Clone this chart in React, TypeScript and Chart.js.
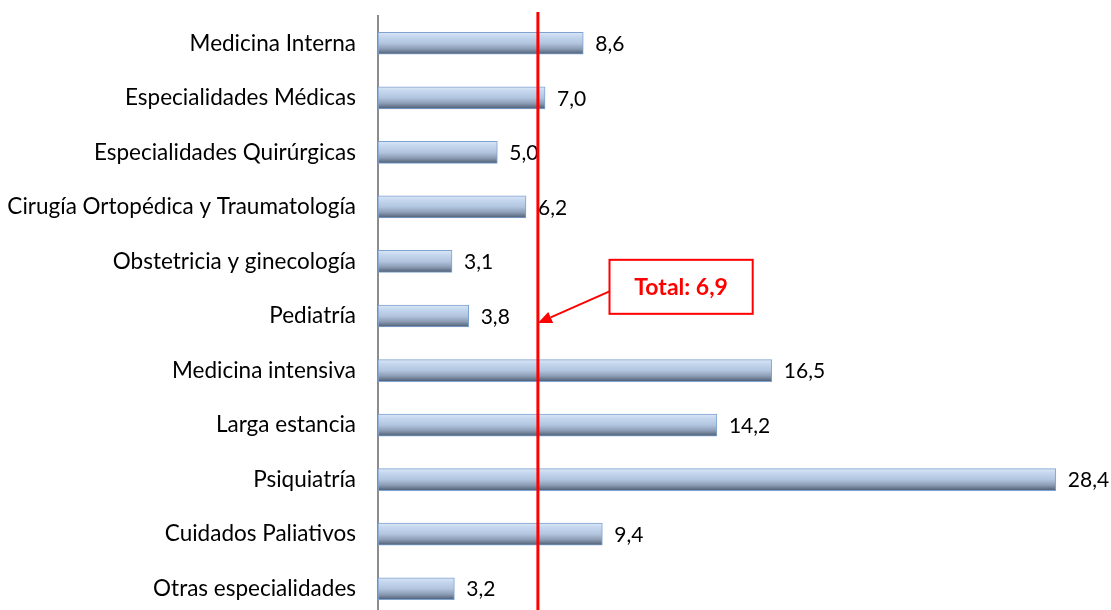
import React, { useEffect, useRef } from "react";
import { Chart, registerables } from "chart.js";

Chart.register(...registerables);

const categories = [
  "Medicina Interna",
  "Especialidades Médicas",
  "Especialidades Quirúrgicas",
  "Cirugía Ortopédica y Traumatología",
  "Obstetricia y ginecología",
  "Pediatría",
  "Medicina intensiva",
  "Larga estancia",
  "Psiquiatría",
  "Cuidados Paliativos",
  "Otras especialidades",
];
const values = [8.6, 7.0, 5.0, 6.2, 3.1, 3.8, 16.5, 14.2, 28.4, 9.4, 3.2];
const valueLabels = ["8,6", "7,0", "5,0", "6,2", "3,1", "3,8", "16,5", "14,2", "28,4", "9,4", "3,2"];

const totalLabel = "Total: 6,9";
const totalLineValue = 6.7; // red reference line position (as drawn)
const xMax = 30;
// annotation box in data units (x: value, y: category index)
const boxX = [9.7, 15.7];
const boxY = [3.97, 4.96];
const arrowStart = [9.7, 4.55];
const arrowEnd = [6.7, 5.13];

const FONT = "Lato, 'Open Sans', sans-serif";

export default function App() {
  const ref = useRef<HTMLCanvasElement | null>(null);

  useEffect(() => {
    document.body.style.margin = "0";
    document.body.style.overflow = "hidden";
    document.documentElement.style.overflow = "hidden";
    const canvas = ref.current!;

    const overlay = {
      id: "overlay",
      afterDatasetsDraw(chart: any) {
        const { ctx, chartArea, scales } = chart;
        const xs = scales.x;
        const ys = scales.y;
        ctx.save();
        // value labels
        const meta = chart.getDatasetMeta(0);
        ctx.font = `21px ${FONT}`;
        ctx.fillStyle = "#000";
        ctx.textAlign = "left";
        ctx.textBaseline = "middle";
        meta.data.forEach((el: any, i: number) => {
          ctx.fillText(valueLabels[i], el.x + 12, el.y + 1);
        });
        // red line
        const lx = xs.getPixelForValue(totalLineValue);
        ctx.strokeStyle = "#ff0000";
        ctx.lineWidth = 3;
        ctx.beginPath();
        ctx.moveTo(lx, chartArea.top - 4);
        ctx.lineTo(lx, chartArea.bottom);
        ctx.stroke();
        // box
        const bx0 = xs.getPixelForValue(boxX[0]);
        const bx1 = xs.getPixelForValue(boxX[1]);
        const by0 = ys.getPixelForValue(boxY[0]);
        const by1 = ys.getPixelForValue(boxY[1]);
        ctx.fillStyle = "#ffffff";
        ctx.fillRect(bx0, by0, bx1 - bx0, by1 - by0);
        ctx.lineWidth = 2;
        ctx.strokeRect(bx0, by0, bx1 - bx0, by1 - by0);
        ctx.fillStyle = "#ff0000";
        ctx.font = `bold 23px ${FONT}`;
        ctx.textAlign = "center";
        ctx.fillText(totalLabel, (bx0 + bx1) / 2, (by0 + by1) / 2 + 1);
        // arrow
        const ax0 = xs.getPixelForValue(arrowStart[0]);
        const ay0 = ys.getPixelForValue(arrowStart[1]);
        const ax1 = xs.getPixelForValue(arrowEnd[0]);
        const ay1 = ys.getPixelForValue(arrowEnd[1]);
        const ang = Math.atan2(ay1 - ay0, ax1 - ax0);
        const head = 14;
        const hx = ax1 - Math.cos(ang) * head;
        const hy = ay1 - Math.sin(ang) * head;
        ctx.lineWidth = 2;
        ctx.beginPath();
        ctx.moveTo(ax0, ay0);
        ctx.lineTo(hx, hy);
        ctx.stroke();
        ctx.beginPath();
        ctx.moveTo(ax1, ay1);
        ctx.lineTo(hx + Math.sin(ang) * 6, hy - Math.cos(ang) * 6);
        ctx.lineTo(hx - Math.sin(ang) * 6, hy + Math.cos(ang) * 6);
        ctx.closePath();
        ctx.fill();
        ctx.restore();
      },
    };

    const chart = new Chart(canvas, {
      type: "bar",
      data: {
        labels: categories,
        datasets: [
          {
            data: values,
            barThickness: 22,
            borderWidth: 1,
            borderColor: "#7fa3d1",
            borderSkipped: false,
            backgroundColor: (c: any) => {
              const ys = c.chart.scales && c.chart.scales.y;
              if (!ys || typeof c.dataIndex !== "number") return "#b3c7e0";
              const cy = ys.getPixelForValue(c.dataIndex);
              if (!Number.isFinite(cy)) return "#b3c7e0";
              const g = c.chart.ctx.createLinearGradient(0, cy - 11, 0, cy + 11);
              g.addColorStop(0, "#dbe6f4");
              g.addColorStop(0.2, "#c4d7ef");
              g.addColorStop(0.5, "#b2c5de");
              g.addColorStop(0.75, "#8c9db5");
              g.addColorStop(1, "#4c5c72");
              return g;
            },
          },
        ],
      },
      options: {
        indexAxis: "y",
        responsive: false,
        animation: false,
        layout: { padding: { top: 16, bottom: 0, left: 0, right: 17 } },
        plugins: { legend: { display: false }, tooltip: { enabled: false } },
        scales: {
          x: { display: false, min: 0, max: xMax },
          y: {
            afterFit: (s: any) => {
              s.width = 378;
              s.paddingTop = 0;
              s.paddingBottom = 0;
            },
            grid: { display: false, drawTicks: false },
            border: { display: true, color: "#8c8c8c", width: 2 },
            ticks: {
              padding: 22,
              color: "#000",
              font: { family: FONT, size: 22.5 },
            },
          },
        },
      },
      plugins: [overlay],
    } as any);

    return () => chart.destroy();
  }, []);

  return <canvas ref={ref} width={1111} height={616} style={{ display: "block" }} />;
}
